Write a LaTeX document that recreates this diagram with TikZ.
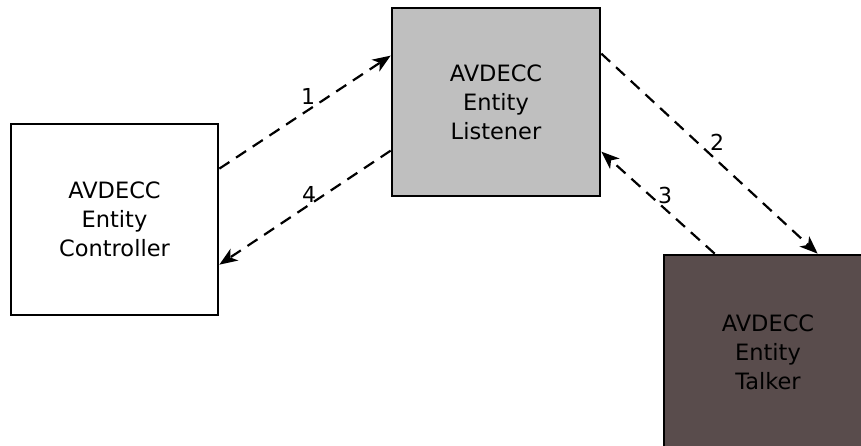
\documentclass[tikz,border=0pt]{standalone}
\usepackage{fontspec}
\setmainfont{DejaVu Sans}
\usetikzlibrary{arrows.meta}
\definecolor{listgray}{HTML}{BFBFBF}
\definecolor{talkbrown}{HTML}{594C4C}
\tikzset{
  entity/.style={draw=black, line width=2.7pt, rectangle, align=center,
    font=\fontsize{22.5}{29}\selectfont, inner sep=0pt},
  msg/.style={line width=2.2pt, dash pattern=on 12pt off 8pt,
    -{Stealth[length=18pt,width=14pt,inset=5pt]}},
  num/.style={font=\fontsize{22}{24}\selectfont, inner sep=1pt}
}
\begin{document}
\begin{tikzpicture}[x=1pt,y=-1pt]
\useasboundingbox (0,0) rectangle (861,446);
\node[entity, fill=white, minimum width=207pt, minimum height=191pt] (ctrl) at (114.5,219.5) {AVDECC\\Entity\\Controller};
\node[entity, fill=listgray, minimum width=208pt, minimum height=188pt] (list) at (496,102) {AVDECC\\Entity\\Listener};
\node[entity, fill=talkbrown, minimum width=208pt, minimum height=194pt] (talk) at (768,352) {AVDECC\\Entity\\Talker};
\draw[msg] ([yshift=-46pt]ctrl.north east) -- ([yshift=-49pt]list.north west);
\draw[msg] ([yshift=-144pt]list.north west) -- ([yshift=-142pt]ctrl.north east);
\draw[msg] ([yshift=-47pt]list.north east) -- ([xshift=155pt]talk.north west);
\draw[msg] ([xshift=52pt]talk.north west) -- ([yshift=-145pt]list.north east);
\node[num] (n1) at (308,96) {1};
\node[num] (n4) at (309,194) {4};
\node[num] (n2) at (717,142) {2};
\node[num] (n3) at (665,195) {3};
\end{tikzpicture}
\end{document}
